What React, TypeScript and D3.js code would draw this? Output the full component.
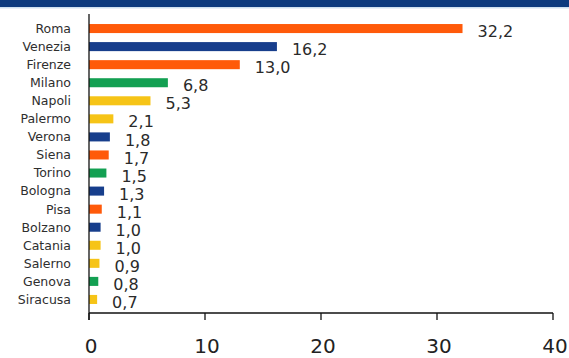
import React, { useEffect, useRef } from 'react';
import * as d3 from 'd3';

const cities = ['Roma', 'Venezia', 'Firenze', 'Milano', 'Napoli', 'Palermo', 'Verona', 'Siena', 'Torino', 'Bologna', 'Pisa', 'Bolzano', 'Catania', 'Salerno', 'Genova', 'Siracusa'];
const values = [32.2, 16.2, 13.0, 6.8, 5.3, 2.1, 1.8, 1.7, 1.5, 1.3, 1.1, 1.0, 1.0, 0.9, 0.8, 0.7];
const groups = ['c', 'n', 'c', 'nw', 's', 's', 'n', 'c', 'nw', 'n', 'c', 'n', 's', 's', 'nw', 's'];
const xTicks = [0, 10, 20, 30, 40];

const groupColor: Record<string, string> = {
  c: '#ff5a0a',
  n: '#173e8c',
  nw: '#13a052',
  s: '#f6c417',
};

const W = 569;
const H = 358;

const App: React.FC = () => {
  const svgRef = useRef<SVGSVGElement>(null);

  useEffect(() => {
    if (!svgRef.current) return;
    const svg = d3.select(svgRef.current);
    svg.selectAll('*').remove();

    const font = "'DejaVu Sans', sans-serif";
    const x = d3.scaleLinear().domain([0, 40]).range([89, 553]);
    const y = d3.scaleBand().domain(cities).range([15, 313]).padding(0.5);

    // background + top band
    svg.append('rect').attr('width', W).attr('height', H).attr('fill', '#ffffff');
    svg.append('rect').attr('width', W).attr('height', 7).attr('fill', '#0d3a7e');
    svg.append('rect').attr('y', 7).attr('width', W).attr('height', 1.5).attr('fill', '#cfe0f0');

    const rows = cities.map((c, i) => ({ city: c, value: values[i], group: groups[i] }));

    svg.selectAll('.bar')
      .data(rows)
      .enter()
      .append('rect')
      .attr('x', x(0))
      .attr('y', d => y(d.city)!)
      .attr('height', y.bandwidth())
      .attr('width', d => x(d.value) - x(0))
      .attr('fill', d => groupColor[d.group]);

    // category labels
    svg.selectAll('.cat')
      .data(rows)
      .enter()
      .append('text')
      .attr('x', 71)
      .attr('y', d => y(d.city)! + y.bandwidth() / 2)
      .attr('dy', '0.35em')
      .attr('text-anchor', 'end')
      .attr('fill', '#2e2e2e')
      .attr('font-family', font)
      .attr('font-size', '12.5px')
      .text(d => d.city);

    // value labels
    svg.selectAll('.val')
      .data(rows)
      .enter()
      .append('text')
      .attr('x', d => x(d.value) + 15)
      .attr('y', d => y(d.city)! + y.bandwidth() / 2 + 3)
      .attr('dy', '0.35em')
      .attr('fill', '#2a2a2a')
      .attr('font-family', font)
      .attr('font-size', '16px')
      .text(d => d3.format('.1f')(d.value).replace('.', ','));

    // axes
    const axisColor = '#111';
    svg.append('line')
      .attr('x1', x(0)).attr('x2', x(0))
      .attr('y1', 14).attr('y2', 320)
      .attr('stroke', axisColor).attr('stroke-width', 1.3);
    svg.append('line')
      .attr('x1', x(0)).attr('x2', x(40))
      .attr('y1', 313).attr('y2', 313)
      .attr('stroke', axisColor).attr('stroke-width', 1.3);

    svg.selectAll('.tick')
      .data(xTicks)
      .enter()
      .append('line')
      .attr('x1', d => x(d)).attr('x2', d => x(d))
      .attr('y1', 313).attr('y2', 320)
      .attr('stroke', axisColor).attr('stroke-width', 1.3);

    svg.selectAll('.tickLabel')
      .data(xTicks)
      .enter()
      .append('text')
      .attr('x', d => x(d) + 2)
      .attr('y', 353)
      .attr('text-anchor', 'middle')
      .attr('fill', '#222')
      .attr('font-family', font)
      .attr('font-size', '20px')
      .text(d => String(d));
  }, []);

  return (
    <div style={{ width: W, height: H, position: 'absolute', left: 0, top: 0 }}>
      <svg ref={svgRef} width={W} height={H} viewBox={`0 0 ${W} ${H}`} style={{ display: 'block' }} />
    </div>
  );
};

export default App;
